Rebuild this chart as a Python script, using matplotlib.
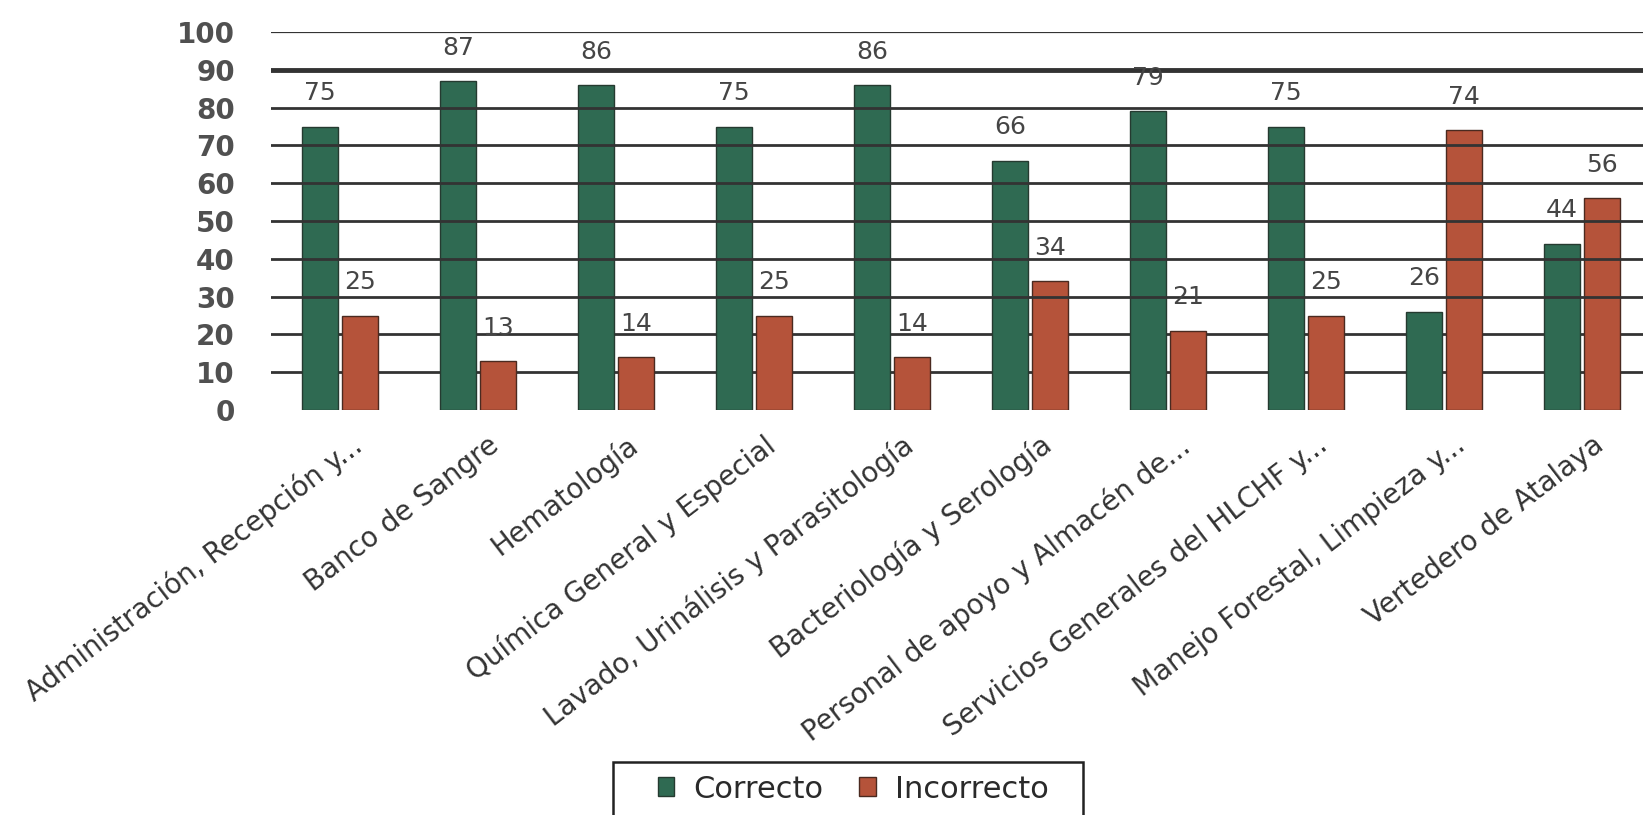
import matplotlib
matplotlib.use("Agg")
import matplotlib.pyplot as plt
from matplotlib.patches import Rectangle
import numpy as np

categories = ["Administración, Recepción y...", "Banco de Sangre", "Hematología",
              "Química General y Especial", "Lavado, Urinálisis y Parasitología",
              "Bacteriología y Serología", "Personal de apoyo y Almacén de...",
              "Servicios Generales del HLCHF y...", "Manejo Forestal, Limpieza y...",
              "Vertedero de Atalaya"]
correcto = [75, 87, 86, 75, 86, 66, 79, 75, 26, 44]
incorrecto = [25, 13, 14, 25, 14, 34, 21, 25, 74, 56]
series_names = ["Correcto", "Incorrecto"]
yticks = list(range(0, 101, 10))

plt.rcParams['font.family'] = ['DejaVu Sans']

W, H = 1643, 815
fig = plt.figure(figsize=(W / 100, H / 100), dpi=100)
ax_left, ax_right, ax_top, ax_bottom = 271, 1643, 32, 410
ax = fig.add_axes([ax_left / W, 1 - ax_bottom / H, (ax_right - ax_left) / W, (ax_bottom - ax_top) / H])

green = '#2F6A52'
red = '#B5533A'
x = np.arange(len(categories))
bw = 0.255
off = 0.145
b1 = ax.bar(x - off, correcto, bw, color=green, edgecolor='#253a30', linewidth=1, zorder=2, label=series_names[0])
b2 = ax.bar(x + off, incorrecto, bw, color=red, edgecolor='#4a2a20', linewidth=1, zorder=2, label=series_names[1])

step = 138.0
ax.set_xlim(-0.5, -0.5 + (ax_right - ax_left) / step)
ax.set_ylim(0, 100)

# gridlines
for v in yticks:
    if v == 0:
        continue
    lw = 3.5 if v == 90 else (1.6 if v == 100 else 2.0)
    z = 1 if v <= 20 else 3
    ax.axhline(v, color='#333333', linewidth=lw, zorder=z)

for s in ax.spines.values():
    s.set_visible(False)

ax.set_yticks(yticks)
ax.set_yticklabels([str(v) for v in yticks], fontsize=20, fontweight='bold', color='#505050')
ax.tick_params(axis='y', length=0, pad=26)
ax.tick_params(axis='x', length=0, pad=15)

ax.set_xticks(x + 0.07)
ax.set_xticklabels(categories, rotation=37.5, ha='right', va='top', rotation_mode='anchor',
                   fontsize=20, color='#333333')

for rects, vals in ((b1, correcto), (b2, incorrecto)):
    for r, v in zip(rects, vals):
        ax.annotate(str(v), (r.get_x() + r.get_width() / 2, v), xytext=(0, 24),
                    textcoords='offset points', ha='center', va='center',
                    fontsize=18, color='#454545', zorder=4)

leg = fig.legend(handles=[b1, b2], labels=series_names, loc='center',
                 bbox_to_anchor=(853 / W, 1 - 789 / H), ncol=2, frameon=False,
                 fontsize=22, handlelength=0.55, handleheight=0.55, handletextpad=0.6,
                 columnspacing=1.2, borderpad=0, borderaxespad=0)
for t in leg.get_texts():
    t.set_color('#2a2a2a')

fig.patches.append(Rectangle((613 / W, 1 - 840 / H), (1083 - 613) / W, (840 - 762) / H,
                             transform=fig.transFigure, fill=False, edgecolor='#222222',
                             linewidth=1.8, clip_on=False))

fig.savefig('out.png', dpi=100, facecolor='white')
